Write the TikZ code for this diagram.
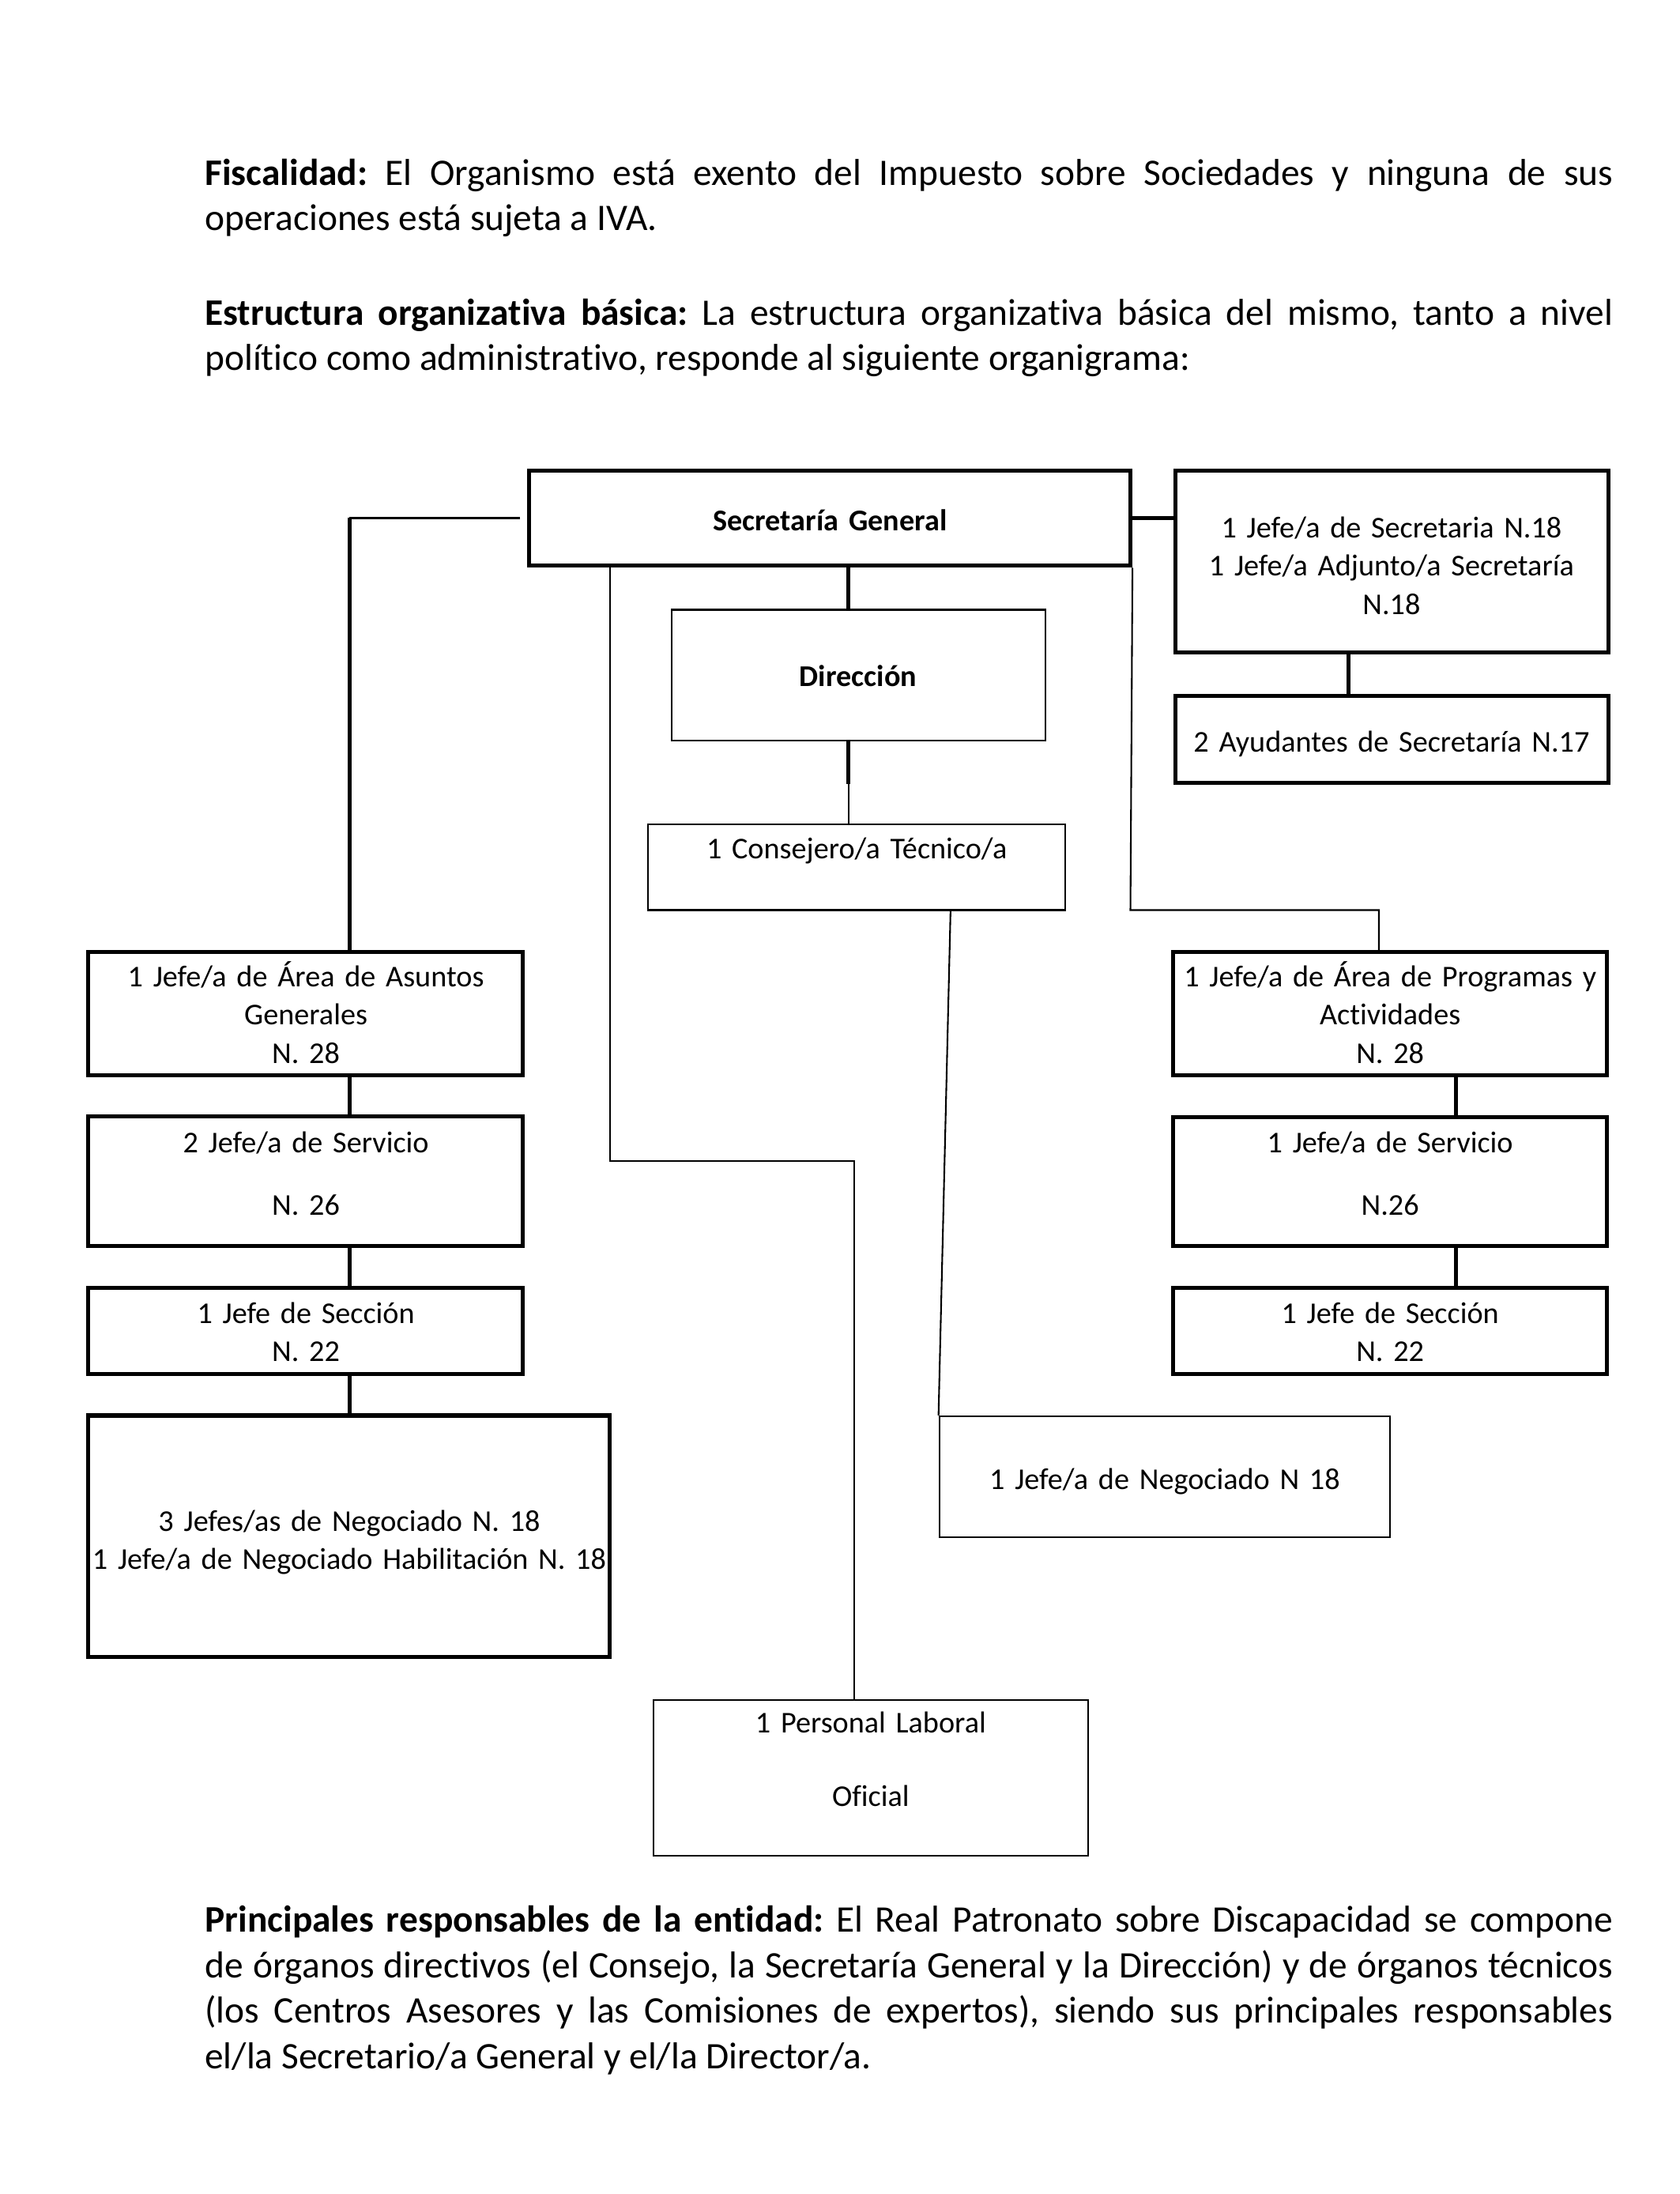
\documentclass[tikz,border=0pt]{standalone}
\usepackage{fontspec}
\setmainfont{Carlito}[RawFeature={-liga;-dlig;-clig}]
\usetikzlibrary{fit}
\frenchspacing
\begin{document}
\begin{tikzpicture}[x=0.51pt,y=-0.51pt,
  thickbox/.style={draw, line width=1.5pt, inner sep=0pt},
  thinbox/.style={draw, line width=0.6pt, inner sep=0pt},
  thickline/.style={line width=1.5pt},
  thinline/.style={line width=0.6pt},
  boxtext/.style={anchor=base, align=center, text width=220pt, inner sep=0pt, font=\fontsize{11}{14}\selectfont},
  para/.style={anchor=base west, inner sep=0pt, font=\fontsize{13.65}{16}\selectfont}]
\useasboundingbox (0,0) rectangle (1200,1567);
% paragraphs
\node[para] (p1a) at (146,132.5) {\makebox[513pt][s]{\textbf{Fiscalidad:} El Organismo está exento del Impuesto sobre Sociedades y ninguna de sus}};
\node[para] (p1b) at (146,164.5) {operaciones está sujeta a IVA.};
\node[para] (p2a) at (146,232) {\makebox[513pt][s]{\textbf{Estructura organizativa básica:} La estructura organizativa básica del mismo, tanto a nivel}};
\node[para] (p2b) at (146,264.5) {político como administrativo, responde al siguiente organigrama:};
\node[para] (p3a) at (146,1380) {\makebox[513pt][s]{\textbf{Principales responsables de la entidad:} El Real Patronato sobre Discapacidad se compone}};
\node[para] (p3b) at (146,1412.5) {\makebox[513pt][s]{de órganos directivos (el Consejo, la Secretaría General y la Dirección) y de órganos técnicos}};
\node[para] (p3c) at (146,1445) {\makebox[513pt][s]{(los Centros Asesores y las Comisiones de expertos), siendo sus principales responsables}};
\node[para] (p3d) at (146,1477.5) {el/la Secretario/a General y el/la Director/a.};
% boxes
\node[thickbox, fit={(378,336) (807.5,404)}] (sg) {};
\node[thickbox, fit={(839.5,336) (1149,466)}] (js) {};
\node[thickbox, fit={(839.5,497) (1149,559)}] (ay) {};
\node[thinbox, fit={(480,435.5) (747,529)}] (dir) {};
\node[thinbox, fit={(463,589) (761,650)}] (con) {};
\node[thickbox, fit={(63,680) (373.5,768)}] (l1) {};
\node[thickbox, fit={(63,797.5) (373.5,890)}] (l2) {};
\node[thickbox, fit={(63,920) (373.5,981.5)}] (l3) {};
\node[thickbox, fit={(63,1011) (435.7,1183.6)}] (l4) {};
\node[thickbox, fit={(838,680) (1148,768)}] (r1) {};
\node[thickbox, fit={(838,798) (1148,890)}] (r2) {};
\node[thickbox, fit={(838,920) (1148,981.5)}] (r3) {};
\node[thinbox, fit={(671,1011.5) (993,1098)}] (neg) {};
\node[thinbox, fit={(466.8,1214) (777.5,1325.5)}] (pl) {};
% texts
\node[boxtext, font=\fontsize{11}{14}\selectfont\bfseries] (sgt) at (593,379) {Secretaría General};
\node[boxtext] (jst) at (994,384) {1 Jefe/a de Secretaria N.18\\1 Jefe/a Adjunto/a Secretaría\\N.18};
\node[boxtext] (ayt) at (994,537) {2 Ayudantes de Secretaría N.17};
\node[boxtext, font=\fontsize{11}{14}\selectfont\bfseries] (dirt) at (613,490) {Dirección};
\node[boxtext] (cont) at (612,613.5) {1 Consejero/a Técnico/a};
\node[boxtext] (l1t) at (218.5,704.5) {1 Jefe/a de Área de Asuntos\\Generales\\N. 28};
\node[boxtext] (l2t) at (218.5,823.5) {2 Jefe/a de Servicio\\[8.6pt]N. 26};
\node[boxtext] (l3t) at (218.5,945) {1 Jefe de Sección\\N. 22};
\node[boxtext] (l4t) at (249.5,1093.5) {3 Jefes/as de Negociado N. 18\\1 Jefe/a de Negociado Habilitación N. 18};
\node[boxtext] (r1t) at (993,704.5) {1 Jefe/a de Área de Programas y\\Actividades\\N. 28};
\node[boxtext] (r2t) at (993,823.5) {1 Jefe/a de Servicio\\[8.6pt]N.26};
\node[boxtext] (r3t) at (993,945) {1 Jefe de Sección\\N. 22};
\node[boxtext] (negt) at (832,1064) {1 Jefe/a de Negociado N 18};
\node[boxtext] (plt) at (622,1237.5) {1 Personal Laboral\\[12.8pt]Oficial};
% helper coordinates
\coordinate (c1) at (606,0);
\coordinate (lx) at (249.6,0);
\coordinate (rx) at (1040,0);
\coordinate (jx) at (963.5,0);
\coordinate (cx1) at (679,0);
\coordinate (bend1) at (435.8,829);
\coordinate (bend2) at (610,829);
\coordinate (bend3) at (807.5,650);
\coordinate (bend4) at (985,650);
% connectors
\draw[thickline] (sg.east) -- (sg.east -| js.west);
\draw[thickline] (js.south -| jx) -- (ay.north -| jx);
\draw[thickline] (sg.south -| c1) -- (dir.north -| c1);
\draw[thickline] (dir.south -| c1) -- ++(0,30.5) coordinate (dm);
\draw[thinline] (dm) -- (con.north -| c1);
\draw[thinline] ([xshift=-2.5pt]sg.west) -- (sg.west -| lx);
\draw[thickline] (sg.west -| lx) -- (l1.north -| lx);
\draw[thickline] (l1.south -| lx) -- (l2.north -| lx);
\draw[thickline] (l2.south -| lx) -- (l3.north -| lx);
\draw[thickline] (l3.south -| lx) -- (l4.north -| lx);
\draw[thickline] (r1.south -| rx) -- (r2.north -| rx);
\draw[thickline] (r2.south -| rx) -- (r3.north -| rx);
\draw[thinline] (sg.south -| bend1) -- (bend1) -- (bend2) -- (pl.north -| bend2);
\draw[thinline] (sg.south east) -- (bend3) -- (bend4) -- (r1.north -| bend4);
\draw[thinline] (con.south -| cx1) -- (neg.north west);
\end{tikzpicture}
\end{document}
